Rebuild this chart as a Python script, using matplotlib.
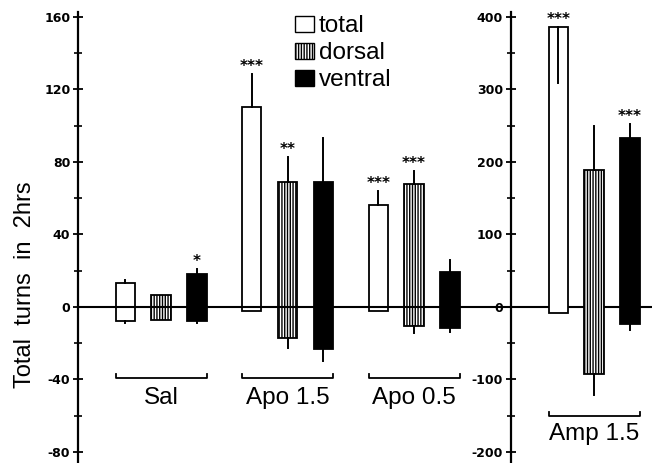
import numpy as np
import matplotlib
matplotlib.use("Agg")
import matplotlib.pyplot as plt
from matplotlib.patches import Patch

plt.rcParams['font.family'] = ['Liberation Sans', 'DejaVu Sans']
plt.rcParams['hatch.linewidth'] = 1.0
plt.rcParams['axes.unicode_minus'] = False

# ---------------- data ----------------
groups = ["Sal", "Apo 1.5", "Apo 0.5", "Amp 1.5"]
series = ["total", "dorsal", "ventral"]

# first three groups on left scale, Amp 1.5 on right scale
total_pos = [13, 110, 56, 386]
total_neg = [-8, -2, -2, -9]
total_hi = [15, 128.5, 64, 308]
total_lo = [-9, np.nan, np.nan, np.nan]
total_sig = ["", "***", "***", "***"]

dorsal_pos = [6.5, 69, 67.5, 189]
dorsal_neg = [-7, -17, -10.5, -92]
dorsal_hi = [np.nan, 82.5, 75, 249]
dorsal_lo = [np.nan, -22.5, -14.5, -121]
dorsal_sig = ["", "**", "***", ""]

ventral_pos = [18, 69, 19.5, 233]
ventral_neg = [-8, -23, -11.5, -23]
ventral_hi = [21, 93, 26, 252]
ventral_lo = [-8.8, -30, -13.8, -32]
ventral_sig = ["*", "", "", "***"]

left_ticks = [-80, -40, 0, 40, 80, 120, 160]
right_ticks = [-200, -100, 0, 100, 200, 300, 400]

# ---------------- layout ----------------
group_x = [0.0, 1.0, 2.0, 3.423]
offsets = [-0.283, 0.0, 0.283]
bar_w = 0.153
styles = [dict(facecolor="white", edgecolor="black", hatch=None),
          dict(facecolor="white", edgecolor="black", hatch="||||||"),
          dict(facecolor="black", edgecolor="black", hatch=None)]

fig = plt.figure(figsize=(6.52, 4.63), dpi=100)
ax = fig.add_axes([78 / 652, 0, 1 - 78 / 652, 451 / 463])
ax2 = ax.twinx()

ylo, yhi = -86.07, 162.6
ax.set_ylim(ylo, yhi)
ax2.set_ylim(ylo * 2.5, yhi * 2.5)
ax.set_xlim(-0.657, 3.881)

for a in (ax, ax2):
    a.set_facecolor("none")
    for s in ("top", "bottom", "right"):
        a.spines[s].set_visible(False)
    a.set_xticks([])
    a.tick_params(axis="y", which="both", direction="inout", length=7, width=1.3,
                  pad=2)

ax.spines["left"].set_linewidth(1.6)
ax.set_yticks(left_ticks)
ax.set_yticks(np.arange(-80, 161, 20), minor=True)
ax.tick_params(axis="y", which="minor", length=6, width=1.2, direction="inout")

ax2.spines["left"].set_visible(True)
ax2.spines["left"].set_position(("data", 2.764))
ax2.spines["left"].set_linewidth(1.6)
ax2.yaxis.set_ticks_position("left")
ax2.yaxis.set_label_position("left")
ax2.set_yticks(right_ticks)
ax2.set_yticks(np.arange(-200, 401, 50), minor=True)
ax2.tick_params(axis="y", which="minor", length=6, width=1.2, direction="inout")

for a in (ax, ax2):
    for lab in a.get_yticklabels():
        lab.set_fontweight("bold")
        lab.set_family("DejaVu Sans")
        lab.set_fontsize(9)

# zero line
ax.axhline(0, xmin=0, xmax=1, color="black", lw=1.5, zorder=5)

all_pos = [total_pos, dorsal_pos, ventral_pos]
all_neg = [total_neg, dorsal_neg, ventral_neg]
all_hi = [total_hi, dorsal_hi, ventral_hi]
all_lo = [total_lo, dorsal_lo, ventral_lo]
all_sig = [total_sig, dorsal_sig, ventral_sig]

for gi, gname in enumerate(groups):
    target = ax2 if gi == 3 else ax
    for si in range(3):
        x = group_x[gi] + offsets[si]
        p = all_pos[si][gi]
        n = all_neg[si][gi]
        st = styles[si]
        target.bar(x, p - n, bottom=n, width=bar_w, facecolor=st["facecolor"],
                   edgecolor=st["edgecolor"], hatch=st["hatch"], linewidth=1.3, zorder=3)
        hi = all_hi[si][gi]
        lo = all_lo[si][gi]
        if not np.isnan(hi):
            target.plot([x, x], [p, hi], color="black", lw=1.4, zorder=4)
        if not np.isnan(lo):
            target.plot([x, x], [n, lo], color="black", lw=1.4, zorder=4)
        sig = all_sig[si][gi]
        if sig:
            top = p if np.isnan(hi) else max(p, hi)
            target.annotate(sig, (x, top), xytext=(0, 0), textcoords="offset points",
                            ha="center", va="bottom", fontsize=11, fontweight="bold",
                            family="DejaVu Sans")
    # bracket
    x0 = group_x[gi] + offsets[0] - bar_w / 2
    x1 = group_x[gi] + offsets[2] + bar_w / 2
    if gi == 3:
        yb, tk, yl = -150, 5, -175
    else:
        yb, tk, yl = -39, 2, -50
    target.plot([x0, x0, x1, x1], [yb + tk, yb, yb, yb + tk], color="black", lw=1.3,
                zorder=4)
    target.text(group_x[gi], yl, gname, ha="center", va="center", fontsize=17.5)

fig.text(25 / 652, 1 - 285 / 463, "Total  turns  in  2hrs", rotation=90,
         ha="center", va="center", fontsize=17)

handles = [Patch(facecolor=st["facecolor"], edgecolor=st["edgecolor"], hatch=st["hatch"],
                 linewidth=1.0) for st in styles]
fig.legend(handles, series, loc="upper left", bbox_to_anchor=(295 / 652, 1 - 15.5 / 463),
           frameon=False, fontsize=17.5, handlelength=0.78, handleheight=0.66,
           handletextpad=0.2, labelspacing=0.2, borderaxespad=0, borderpad=0)

fig.savefig("out.png", dpi=100, facecolor="white")
